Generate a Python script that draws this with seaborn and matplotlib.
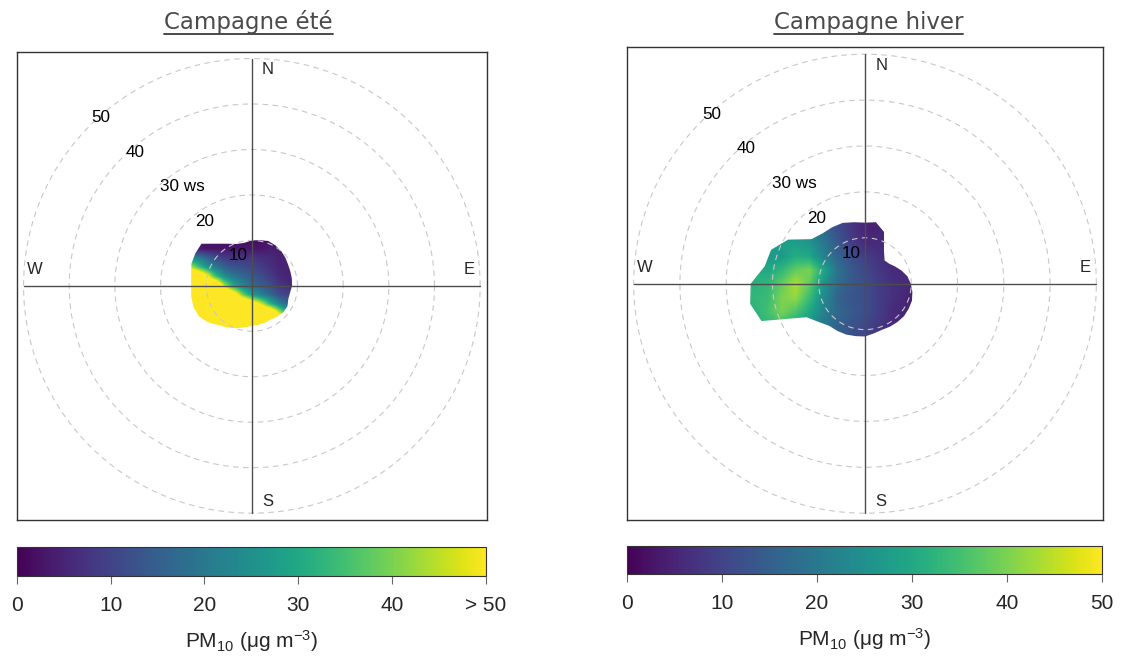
import numpy as np
import matplotlib
matplotlib.use("Agg")
import matplotlib.pyplot as plt
from matplotlib.patches import Polygon
from matplotlib.lines import Line2D
import seaborn as sns

# ---------------------------------------------------------------
# Data (PM10, ug m-3)
# ---------------------------------------------------------------
RINGS = [10, 20, 30, 40, 50]
UPPER = 50
CBAR_TICKS = [0, 10, 20, 30, 40, 50]
SUMMER_TICKLABELS = ["0", "10", "20", "30", "40", "> 50"]
WINTER_TICKLABELS = ["0", "10", "20", "30", "40", "50"]
TITLES = ["Campagne été", "Campagne hiver"]

# extent of the surface (ws) for each wind direction, degrees from north
EDGE_DIRS = [0, 10, 20, 30, 40, 50, 60, 70, 80, 90, 100, 110,
             120, 130, 140, 150, 160, 170, 180, 190, 200, 210, 220, 230,
             240, 250, 260, 270, 280, 290, 300, 310, 320, 330, 340, 350]
summer_edge = [10.0, 10.2, 10.5, 10.3, 10.0, 9.6, 9.2, 9.0, 8.9, 8.8, 8.5, 8.5,
               9.0, 9.0, 8.8, 8.5, 8.6, 8.7, 8.8, 9.3, 9.9, 10.6, 11.3, 12.5,
               13.4, 13.6, 13.5, 13.3, 13.5, 14.1, 14.3, 14.4, 12.1, 10.7, 9.8, 9.6]
winter_edge = [13.3, 13.6, 12.0, 8.2, 6.6, 6.8, 7.5, 8.4, 9.3, 9.9, 10.4, 10.8,
               10.9, 11.0, 10.9, 10.8, 10.7, 11.0, 11.5, 11.6, 11.8, 11.9, 12.0, 13.0,
               14.6, 23.8, 25.2, 24.7, 22.0, 21.6, 19.2, 15.1, 14.3, 14.2, 14.1, 13.6]

# summer surface, nodes every 2 ws units (x = east, y = north)
summer_x = [-14, -12, -10, -8, -6, -4, -2, 0, 2, 4, 6, 8, 10]
summer_y = [10, 8, 6, 4, 2, 0, -2, -4, -6, -8, -10]
summer_pm10 = [
    [2, 2, 2, 2, 2, 2, 2, 2, 2, 2, 2, 2, 2],
    [8, 4, 3, 3, 3, 3, 3, 3, 3, 4, 4, 4, 4],
    [26, 22, 17, 12, 9, 8, 8, 8, 7, 6, 5, 5, 5],
    [50, 38, 28, 21, 16, 13, 12, 11, 9, 7, 5, 5, 5],
    [70, 70, 55, 36, 25, 20, 17, 14, 12, 9, 6, 5, 5],
    [70, 70, 70, 70, 45, 30, 23, 18, 15, 12, 8, 6, 6],
    [70, 70, 70, 70, 70, 60, 40, 28, 22, 17, 12, 10, 10],
    [70, 70, 70, 70, 70, 70, 70, 60, 48, 33, 22, 16, 16],
    [70, 70, 70, 70, 70, 70, 70, 70, 70, 70, 48, 30, 28],
    [70, 70, 70, 70, 70, 70, 70, 70, 70, 70, 70, 70, 70],
    [70, 70, 70, 70, 70, 70, 70, 70, 70, 70, 70, 70, 70],
]

# winter surface, nodes every 3 ws units
winter_x = [-27, -24, -21, -18, -15, -12, -9, -6, -3, 0, 3, 6, 9, 12]
winter_y = [15, 12, 9, 6, 3, 0, -3, -6, -9, -12]
winter_pm10 = [
    [28, 28, 27, 26, 25, 23, 18, 12, 8, 5, 5, 5, 5, 5],
    [28, 28, 27, 26, 25, 22, 17, 12, 8, 5, 5, 5, 5, 5],
    [29, 29, 28, 28, 28, 26, 20, 14, 9, 6, 6, 6, 6, 6],
    [30, 29, 27, 27, 31, 30, 22, 16, 12, 9, 7, 6, 6, 6],
    [32, 31, 30, 33, 38, 40, 30, 19, 14, 11, 8, 6, 6, 6],
    [33, 32, 33, 38, 44, 38, 26, 18, 14, 12, 9, 7, 6, 6],
    [33, 33, 34, 40, 42, 34, 24, 16, 13, 12, 9, 7, 5, 5],
    [32, 32, 35, 40, 36, 30, 22, 17, 14, 12, 9, 6, 5, 5],
    [31, 31, 33, 34, 30, 26, 20, 16, 13, 11, 8, 6, 5, 5],
    [30, 30, 31, 31, 28, 24, 19, 15, 12, 10, 8, 6, 5, 5],
]

# ---------------------------------------------------------------
sns.set_style("white")
plt.rcParams['font.family'] = ['Liberation Sans', 'DejaVu Sans']
plt.rcParams['mathtext.default'] = 'regular'

cmap = sns.color_palette("viridis", as_cmap=True)
W, H = 1122, 659
fig = plt.figure(figsize=(W / 100, H / 100), dpi=100)


def fx(px):
    return px / W


def fy(px):
    return 1 - px / H


def draw_panel(ax, xs, ys, vals, edge):
    xs = np.asarray(xs, float)
    ys = np.asarray(ys, float)
    dx = xs[1] - xs[0]
    dy = ys[0] - ys[1]
    extent = [xs[0] - dx / 2, xs[-1] + dx / 2, ys[-1] - dy / 2, ys[0] + dy / 2]
    im = ax.imshow(np.asarray(vals, float), extent=extent, origin='upper', cmap=cmap,
                   vmin=0, vmax=50, interpolation='bilinear',
                   interpolation_stage='data', zorder=1)
    th = np.deg2rad(EDGE_DIRS)
    edge = np.asarray(edge)
    clip = Polygon(np.column_stack([edge * np.sin(th), edge * np.cos(th)]),
                   closed=True, facecolor='none', edgecolor='none',
                   transform=ax.transData)
    ax.add_patch(clip)
    im.set_clip_path(clip)

    # dashed ws rings
    t = np.linspace(0, 2 * np.pi, 400)
    for r in RINGS:
        ax.plot(r * np.cos(t), r * np.sin(t), ls=(0, (5, 4)), color='#c8c8c8',
                lw=0.8, zorder=2)
    ax.plot([-UPPER, UPPER], [0, 0], color='#4d4d4d', lw=1.0, zorder=3)
    ax.plot([0, 0], [-UPPER, UPPER], color='#4d4d4d', lw=1.0, zorder=3)

    # ring labels along the NW diagonal
    s45 = np.sin(np.pi / 4)
    for r in RINGS:
        lab = f"{r} ws" if r == 30 else f"{r}"
        ax.text(-1.07 * r * s45 + 2.6, 1.07 * r * s45 - 0.9, lab, ha='left',
                va='center', fontsize=12.3, color='black', zorder=4)

    # compass points
    off = 0.07 * UPPER
    far = 0.95 * UPPER
    for lab, (x, y) in zip(["N", "E", "S", "W"],
                           [(off, far), (far, off), (off, -far), (-far, off)]):
        ax.text(x, y, lab, ha='center', va='center', fontsize=12, zorder=4)

    ax.set_xlim(-51.5, 51.5)
    ax.set_ylim(-51.5, 51.5)
    ax.set_aspect('auto')
    ax.set_xticks([])
    ax.set_yticks([])
    for sp in ax.spines.values():
        sp.set_edgecolor('#333333')
        sp.set_linewidth(1.0)
    return im


# panel boxes in pixels: left, top, right, bottom
panels = [
    (16.7, 51.7, 487.0, 520.0),
    (626.7, 47.3, 1103.3, 520.1),
]
cbars = [
    (16.8, 546.8, 486.0, 575.5),
    (626.7, 545.7, 1101.7, 573.5),
]
title_x = [248.3, 868.3]

data = [
    (summer_x, summer_y, summer_pm10, summer_edge, SUMMER_TICKLABELS),
    (winter_x, winter_y, winter_pm10, winter_edge, WINTER_TICKLABELS),
]

titles = []
for i, (xs, ys, vals, edge, tlabels) in enumerate(data):
    l, t, r, b = panels[i]
    ax = fig.add_axes([fx(l), fy(b), fx(r - l), (b - t) / H])
    im = draw_panel(ax, xs, ys, vals, edge)

    cl, ct, cr, cbm = cbars[i]
    cax = fig.add_axes([fx(cl), fy(cbm), fx(cr - cl), (cbm - ct) / H])
    cb = fig.colorbar(im, cax=cax, orientation='horizontal', ticks=CBAR_TICKS)
    cb.set_ticklabels(tlabels)
    cb.outline.set_edgecolor('#333333')
    cb.outline.set_linewidth(0.8)
    cax.tick_params(axis='x', direction='out', length=6, width=0.8,
                    color='#666666', labelsize=15, pad=8.5, bottom=True)
    cb.set_label("PM$_{10}$ (μg m$^{-3}$)", fontsize=15, labelpad=10)

    tt = fig.text(fx(title_x[i]), fy(29), TITLES[i], ha='center', va='baseline',
                  fontsize=16.5, color='#4a4a4a', family=['DejaVu Sans'])
    titles.append(tt)

# underline the titles
fig.canvas.draw()
inv = fig.transFigure.inverted()
for tt in titles:
    bb = tt.get_window_extent()
    (x0, _), (x1, _) = inv.transform([[bb.x0, bb.y0], [bb.x1, bb.y1]])
    fig.add_artist(Line2D([x0, x1], [fy(33.7), fy(33.7)], transform=fig.transFigure,
                          color='#4a4a4a', lw=1.4))

fig.savefig("out.png", dpi=100)
